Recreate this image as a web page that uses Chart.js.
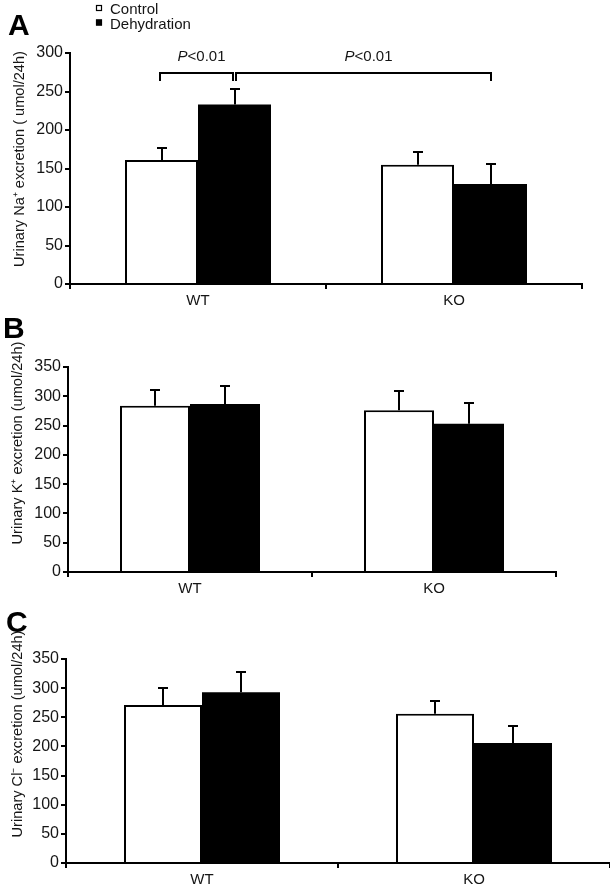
<!DOCTYPE html>
<html>
<head>
<meta charset="utf-8">
<script src="https://cdn.jsdelivr.net/npm/chart.js@4.4.0/dist/chart.umd.min.js"></script>
<style>
html,body{margin:0;padding:0;background:#fff;}
#wrap{position:relative;width:610px;height:890px;overflow:hidden;background:#fff}
canvas{position:absolute;left:0}
</style>
</head>
<body>
<div id="wrap">
<canvas id="cA" width="610" height="310" style="top:0px"></canvas>
<canvas id="cB" width="610" height="290" style="top:310px"></canvas>
<canvas id="cC" width="610" height="290" style="top:600px"></canvas>
</div>
<script>
// ---------- data ----------
const categories = ['WT', 'KO'];
const seriesNames = ['Control', 'Dehydration'];

// Panel A: urinary Na+ excretion
const naControl = [161, 155];
const naControlSE = [15, 16];
const naDehydration = [233, 130];
const naDehydrationSE = [20, 26];
const naTicks = [0, 50, 100, 150, 200, 250, 300];

// Panel B: urinary K+ excretion
const kControl = [284, 276];
const kControlSE = [27, 33];
const kDehydration = [287, 253];
const kDehydrationSE = [31, 35];
const kTicks = [0, 50, 100, 150, 200, 250, 300, 350];

// Panel C: urinary Cl- excretion
const clControl = [271, 256];
const clControlSE = [30, 22];
const clDehydration = [293, 206];
const clDehydrationSE = [35, 29];
const clTicks = [0, 50, 100, 150, 200, 250, 300, 350];

// Significance brackets (panel A): [datasetIndex, categoryIndex] pairs
const sigLabelItalic = 'P';
const sigLabelRest = '<0.01';
const naBracketLevel = 274;
const naComparisons = [
  { a: [0, 0], b: [1, 0] },
  { a: [1, 0], b: [1, 1] }
];

// ---------- drawing ----------
const FONT = "'Liberation Sans', Arial, Helvetica, sans-serif";
const TXT = '#151515';

function decor(p) {
  return {
    id: 'decor_' + p.letter,
    afterDatasetsDraw(chart) {
      const ctx = chart.ctx, ys = chart.scales.y;
      ctx.save();
      ctx.strokeStyle = '#000';
      ctx.lineWidth = 2;
      [p.controlSE, p.dehydSE].forEach((se, di) => {
        const meta = chart.getDatasetMeta(di);
        meta.data.forEach((bar, j) => {
          const v = chart.data.datasets[di].data[j];
          const x = Math.round(bar.x);
          const yTop = ys.getPixelForValue(v);
          const yCap = Math.round(ys.getPixelForValue(v + se[j]));
          ctx.beginPath();
          ctx.moveTo(x, yTop);
          ctx.lineTo(x, yCap);
          ctx.moveTo(x - 5, yCap);
          ctx.lineTo(x + 5, yCap);
          ctx.stroke();
        });
      });
      if (p.comparisons) {
        const yb = Math.round(ys.getPixelForValue(p.bracketLevel));
        p.comparisons.forEach((c, k) => {
          const xa = Math.round(chart.getDatasetMeta(c.a[0]).data[c.a[1]].x) + (k === 0 ? -2 : 1);
          const xb = Math.round(chart.getDatasetMeta(c.b[0]).data[c.b[1]].x) + (k === 0 ? -2 : 0);
          ctx.beginPath();
          ctx.moveTo(xa, yb + 8);
          ctx.lineTo(xa, yb);
          ctx.lineTo(xb, yb);
          ctx.lineTo(xb, yb + 8);
          ctx.stroke();
          const cx = (xa + xb) / 2 + 5;
          ctx.fillStyle = TXT;
          ctx.textBaseline = 'alphabetic';
          ctx.textAlign = 'left';
          ctx.font = 'italic 15px ' + FONT;
          const w1 = ctx.measureText(sigLabelItalic).width;
          ctx.font = '15px ' + FONT;
          const w2 = ctx.measureText(sigLabelRest).width;
          const x0 = cx - (w1 + w2) / 2;
          ctx.font = 'italic 15px ' + FONT;
          ctx.fillText(sigLabelItalic, x0, yb - 12);
          ctx.font = '15px ' + FONT;
          ctx.fillText(sigLabelRest, x0 + w1, yb - 12);
        });
      }
      ctx.restore();
    },
    afterDraw(chart) {
      const ctx = chart.ctx;
      ctx.save();
      // axis title
      ctx.fillStyle = TXT;
      ctx.font = '14.6px ' + FONT;
      ctx.textAlign = 'center';
      ctx.textBaseline = 'middle';
      ctx.translate(p.titleX, p.titleY);
      ctx.rotate(-Math.PI / 2);
      ctx.fillText(p.yTitle, 0, 0);
      ctx.setTransform(1, 0, 0, 1, 0, 0);
      // panel letter
      ctx.fillStyle = '#000';
      ctx.font = 'bold 30px ' + FONT;
      ctx.textAlign = 'left';
      ctx.textBaseline = 'alphabetic';
      ctx.fillText(p.letter, p.letterX, p.letterY);
      // legend
      if (p.legend) {
        const ds = chart.data.datasets;
        ctx.font = '15px ' + FONT;
        ds.forEach((d, i) => {
          const by = 5 + i * 14.5;
          ctx.fillStyle = d.backgroundColor;
          ctx.fillRect(96, by, 6, 6);
          ctx.strokeStyle = '#000';
          ctx.lineWidth = 1.2;
          ctx.strokeRect(96.5, by + 0.5, 5, 5);
          ctx.fillStyle = TXT;
          ctx.fillText(d.label, 110, 14 + i * 14.5);
        });
      }
      ctx.restore();
    }
  };
}

function makeChart(id, p) {
  const ticks = p.ticks;
  return new Chart(document.getElementById(id), {
    type: 'bar',
    data: {
      labels: categories,
      datasets: [
        { label: seriesNames[0], data: p.control, backgroundColor: '#ffffff', borderColor: '#000',
          borderWidth: 2, inflateAmount: 0, categoryPercentage: p.catPct, barPercentage: 1 },
        { label: seriesNames[1], data: p.dehyd, backgroundColor: '#000000', borderColor: '#000',
          borderWidth: 0, inflateAmount: 0, categoryPercentage: p.catPct, barPercentage: 1 }
      ]
    },
    options: {
      responsive: false,
      animation: false,
      devicePixelRatio: 1,
      layout: { padding: { top: p.top, right: p.right, left: 0, bottom: 0 } },
      plugins: { legend: { display: false }, tooltip: { enabled: false }, title: { display: false } },
      scales: {
        x: {
          z: 1,
          grid: { display: true, drawOnChartArea: false, drawTicks: true, tickLength: 5,
                  color: '#000', lineWidth: 2, offset: true },
          border: { display: true, color: '#000', width: 2 },
          ticks: { color: TXT, font: { family: FONT, size: 15 }, padding: 3 },
          afterFit: s => { s.height = p.xH; }
        },
        y: {
          min: ticks[0],
          max: ticks[ticks.length - 1],
          ticks: { stepSize: ticks[1] - ticks[0], color: TXT, font: { family: FONT, size: 16 }, padding: 2 },
          grid: { display: true, drawOnChartArea: false, tickLength: 5, color: '#000', lineWidth: 2 },
          border: { display: true, color: '#000', width: 2 },
          afterFit: s => { s.width = p.left; }
        }
      }
    },
    plugins: [decor(p)]
  });
}

makeChart('cA', {
  letter: 'A', letterX: 8, letterY: 35,
  control: naControl, dehyd: naDehydration, controlSE: naControlSE, dehydSE: naDehydrationSE,
  ticks: naTicks, catPct: 146 / 256,
  left: 70, right: 28, top: 53, xH: 26,
  yTitle: 'Urinary Na\u207A excretion ( umol/24h)', titleX: 20, titleY: 159,
  legend: true,
  comparisons: naComparisons, bracketLevel: naBracketLevel
});

makeChart('cB', {
  letter: 'B', letterX: 3, letterY: 28,
  control: kControl, dehyd: kDehydration, controlSE: kControlSE, dehydSE: kDehydrationSE,
  ticks: kTicks, catPct: 140 / 244,
  left: 68, right: 54, top: 57, xH: 28,
  yTitle: 'Urinary K\u207A excretion (umol/24h)', titleX: 18, titleY: 133,
  legend: false
});

makeChart('cC', {
  letter: 'C', letterX: 6, letterY: 32,
  control: clControl, dehyd: clDehydration, controlSE: clControlSE, dehydSE: clDehydrationSE,
  ticks: clTicks, catPct: 156 / 272,
  left: 66, right: 0, top: 59, xH: 27,
  yTitle: 'Urinary Cl\u207B excretion (umol/24h)', titleX: 18, titleY: 134,
  legend: false
});
</script>
</body>
</html>
